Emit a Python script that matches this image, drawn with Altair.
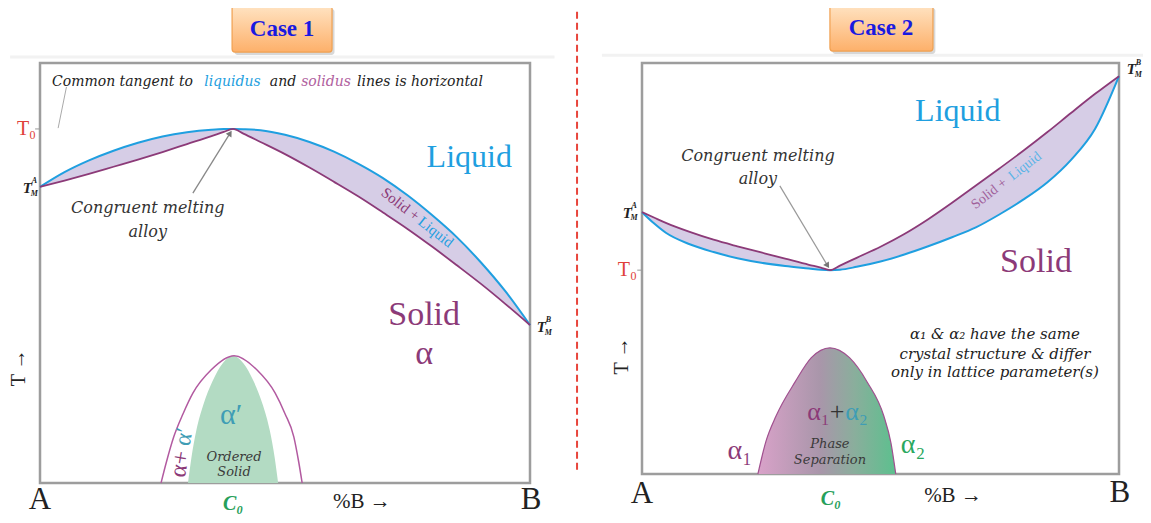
import altair as alt
import pandas as pd

SERIF = "Liberation Serif"
ITAL = "DejaVu Serif"
BLUE = "#1f9fe0"
PURPLE = "#8c3a78"
TEAL = "#3f9db5"
GREEN = "#27a05a"
LAV = "#d6cde6"

# ---------------- Case 1 data (composition %B, temperature in relative units) ----------------
P1_X = [0, 5, 10, 15, 20, 25, 30, 35, 37.5, 39.4, 41.5, 45, 50, 55, 60, 65, 70, 75, 80, 85, 90, 95, 100]
P1_LIQ = [70.5, 74.0, 76.8, 79.1, 81.0, 82.5, 83.5, 84.1, 84.27, 84.3, 84.24, 84.0, 82.9, 81.2, 78.9,
          76.0, 72.6, 68.5, 63.8, 58.6, 52.5, 45.6, 37.6]
P1_SOL = [70.5, 72.0, 73.6, 75.3, 77.0, 78.8, 80.7, 82.6, 83.6, 84.3, 83.2, 81.2, 78.3, 75.1, 71.7,
          68.2, 64.4, 60.5, 56.3, 51.9, 47.4, 42.6, 37.6]
# ordering dome: outer (alpha + alpha') boundary and inner ordered-solid region
P1_DOME_OUT_X = [24.7, 25.8, 27.3, 29.2, 31.2, 34.9, 39.6, 44.3, 48.0, 50.0, 51.8, 52.8, 53.5]
P1_DOME_OUT_T = [0, 5, 11, 16.5, 21.4, 26.9, 30.3, 26.9, 21.4, 16.5, 11, 5, 0]
P1_DOME_IN_X = [30.2, 30.9, 31.9, 33.3, 35.2, 37.3, 39.4, 41.5, 43.6, 45.5, 46.9, 47.9, 48.6]
P1_DOME_IN_T = [0, 6, 12.5, 18.5, 24.2, 28.5, 30.3, 28.5, 24.2, 18.5, 12.5, 6, 0]

# ---------------- Case 2 data ----------------
P2_X = [0, 2.5, 5, 10, 15, 20, 25, 30, 35, 37.5, 39.4, 41.5, 45, 50, 55, 60, 65, 70, 75, 80, 85, 90, 95, 100]
P2_LIQ = [63.7, 61.0, 58.7, 55.9, 54.0, 52.5, 51.4, 50.6, 50.0, 49.7, 49.6, 49.7, 50.4, 51.7, 53.4,
          55.4, 57.6, 60.0, 63.2, 66.8, 71.0, 76.5, 84.0, 96.8]
P2_SOL = [63.7, 62.4, 61.1, 58.9, 57.0, 55.4, 53.9, 52.4, 50.9, 50.2, 49.6, 50.7, 52.6, 55.3, 58.4,
          62.0, 66.0, 70.2, 74.4, 78.7, 83.2, 87.9, 92.5, 96.8]
P2_DOME_X = [24.3, 26, 28.1, 32.1, 35.5, 39.4, 43.5, 47.2, 50.7, 52.2, 53.2]
P2_DOME_T = [0, 8, 14.1, 22.4, 28.3, 30.7, 28.3, 22.4, 14.1, 7.5, 0]


def X(field="x"):
    return alt.X(f"{field}:Q", scale=alt.Scale(domain=[0, 100], nice=False, zero=False), axis=None)


def Y(field="y"):
    return alt.Y(f"{field}:Q", scale=alt.Scale(domain=[0, 100], nice=False, zero=False), axis=None)


def txt(x, y, text, color="#222", size=14, font=SERIF, style="normal", weight="normal",
        angle=0, align="center", baseline="middle"):
    d = pd.DataFrame({"x": [x], "y": [y], "t": [text]})
    return alt.Chart(d).mark_text(color=color, fontSize=size, font=font, fontStyle=style,
                                  fontWeight=weight, angle=angle, align=align,
                                  baseline=baseline).encode(x=X(), y=Y(), text="t:N")


def seg(x, y, x2, y2, color="#888", width=1.2, dash=None):
    d = pd.DataFrame({"x": [x], "y": [y], "x2": [x2], "y2": [y2]})
    kw = dict(color=color, strokeWidth=width)
    if dash:
        kw["strokeDash"] = dash
    return alt.Chart(d).mark_rule(**kw).encode(x=X(), y=Y(), x2="x2:Q", y2="y2:Q")


def head(x, y, angle):
    d = pd.DataFrame({"x": [x], "y": [y]})
    return alt.Chart(d).mark_point(shape="triangle-up", filled=True, size=45, color="#777",
                                   opacity=1, angle=angle).encode(x=X(), y=Y())


def case_box(x, x2, y, y2, label, tx, ty):
    d = pd.DataFrame({"x": [x], "x2": [x2], "y": [y], "y2": [y2]})
    ds = pd.DataFrame({"x": [x + 0.5], "x2": [x2 + 0.5], "y": [y - 0.7], "y2": [y2 - 0.7]})
    shadow = alt.Chart(ds).mark_rect(color="#c8c8c8", opacity=0.7, cornerRadius=3).encode(
        x=X(), x2="x2:Q", y=Y(), y2="y2:Q")
    box = alt.Chart(d).mark_rect(
        fill=alt.LinearGradient(gradient="linear",
                                stops=[alt.GradientStop(color="#ffe3c2", offset=0),
                                       alt.GradientStop(color="#fdb06a", offset=1)],
                                x1=0, x2=0, y1=0, y2=1),
        stroke="#f0a050", strokeWidth=1.2, cornerRadius=3).encode(x=X(), x2="x2:Q", y=Y(), y2="y2:Q")
    t = txt(tx, ty, label, color="#1a1ae0", size=23, font=SERIF, weight="bold")
    return [shadow, box, t]


def T_label(x, y, sup, color="#222"):
    return [txt(x, y, "T", size=15, style="italic", weight="bold", color=color),
            txt(x + 1.45, y + 1.6, sup, size=8, style="italic", weight="bold", color=color),
            txt(x + 1.45, y - 1.3, "M", size=8, style="italic", weight="bold", color=color)]


# ======================= Panel 1 =======================
df1 = pd.DataFrame({"x": P1_X, "liq": P1_LIQ, "sol": P1_SOL})
lens1 = alt.Chart(df1).mark_area(color=LAV, interpolate="monotone").encode(
    x=X(), y=Y("liq"), y2="sol:Q")
liq1 = alt.Chart(df1).mark_line(color=BLUE, strokeWidth=2, interpolate="monotone").encode(x=X(), y=Y("liq"))
sol1 = alt.Chart(df1).mark_line(color=PURPLE, strokeWidth=1.8, interpolate="monotone").encode(x=X(), y=Y("sol"))

dout = pd.DataFrame({"x": P1_DOME_OUT_X, "y": P1_DOME_OUT_T})
din = pd.DataFrame({"x": P1_DOME_IN_X, "y": P1_DOME_IN_T})
dome1_fill = alt.Chart(din).mark_area(color="#b3dbc3", interpolate="monotone").encode(
    x=X(), y=Y(), y2=alt.datum(0))
dome1_out = alt.Chart(dout).mark_line(color="#b25aa0", strokeWidth=1.5, interpolate="monotone").encode(
    x=X(), y=Y())

p1_layers = [
    seg(-8.2, 114.8, 226.7, 114.8, color="#dcf3dc", width=2),
    seg(-6.1, 101.4, 105, 101.4, color="#f2f2f2", width=3),
    *case_box(39.2, 59.6, 102.6, 113.6, "Case 1", 49.4, 108.1),
    seg(109.6, 114.8, 109.6, 3.1, color="#e8453c", width=2, dash=[7, 4]),
    lens1, liq1, sol1, dome1_fill, dome1_out,
    # common tangent note
    txt(2.45, 95.5, "Common tangent to", size=14, font=ITAL, style="italic", align="left", color="#222"),
    txt(33.5, 95.5, "liquidus", size=14, font=ITAL, style="italic", align="left", color=BLUE),
    txt(46.9, 95.5, "and", size=14, font=ITAL, style="italic", align="left", color="#222"),
    txt(53.3, 95.5, "solidus", size=14, font=ITAL, style="italic", align="left", color="#b0609e"),
    txt(64.7, 95.5, "lines is horizontal", size=14, font=ITAL, style="italic", align="left", color="#222"),
    seg(5.4, 94.3, 3.7, 84.5, color="#aaaaaa", width=1),
    seg(-1.0, 84.3, 0, 84.3, color="#999", width=1),
    txt(-0.8, 84.3, "T₀", color="#e0403a", size=20, align="right"),
    *T_label(-2.6, 70.2, "A"),
    *T_label(102.3, 37.1, "B"),
    txt(87.6, 77.6, "Liquid", color=BLUE, size=32),
    txt(78.4, 40.0, "Solid", color=PURPLE, size=34),
    txt(78.4, 30.6, "α", color=PURPLE, size=34),
    txt(73.6, 66.4, "Solid +", color=PURPLE, size=15, angle=38),
    txt(80.8, 59.8, "Liquid", color=BLUE, size=15, angle=38),
    txt(22.0, 65.5, "Congruent melting", size=16, font=ITAL, style="italic", color="#333"),
    txt(22.0, 59.8, "alloy", size=16, font=ITAL, style="italic", color="#333"),
    seg(31.2, 69.0, 38.8, 83.3, color="#888", width=1.3),
    head(38.8, 83.3, 32),
    txt(39.0, 16.2, "α′", color=TEAL, size=30),
    txt(39.6, 6.2, "Ordered", size=13, font=ITAL, style="italic", color="#3a3a3a"),
    txt(39.6, 2.6, "Solid", size=13, font=ITAL, style="italic", color="#3a3a3a"),
    txt(28.6, 4.5, "α+", color=PURPLE, size=24, angle=280),
    txt(29.4, 11.0, "α′", color=TEAL, size=24, angle=280),
    txt(0, -4.0, "A", size=31),
    txt(100.2, -4.0, "B", size=31),
    txt(65.7, -4.6, "%B →", size=21),
    txt(39.4, -4.9, "C₀", color=GREEN, size=20, style="italic", weight="bold"),
    txt(-4.3, 27.4, "T →", size=20, angle=270),
]
panel1 = alt.layer(*p1_layers).properties(width=490, height=420)

# ======================= Panel 2 =======================
df2 = pd.DataFrame({"x": P2_X, "liq": P2_LIQ, "sol": P2_SOL})
lens2 = alt.Chart(df2).mark_area(color=LAV, interpolate="monotone").encode(
    x=X(), y=Y("liq"), y2="sol:Q")
liq2 = alt.Chart(df2).mark_line(color=BLUE, strokeWidth=2, interpolate="monotone").encode(x=X(), y=Y("liq"))
sol2 = alt.Chart(df2).mark_line(color=PURPLE, strokeWidth=1.8, interpolate="monotone").encode(x=X(), y=Y("sol"))

dd2 = pd.DataFrame({"x": P2_DOME_X, "y": P2_DOME_T})
dome2_fill = alt.Chart(dd2).mark_area(
    color=alt.LinearGradient(gradient="linear",
                             stops=[alt.GradientStop(color="#d9a2c9", offset=0),
                                    alt.GradientStop(color="#a996aa", offset=0.45),
                                    alt.GradientStop(color="#8aae9c", offset=0.7),
                                    alt.GradientStop(color="#5cc08e", offset=1)],
                             x1=0, x2=1, y1=0, y2=0),
    interpolate="monotone").encode(x=X(), y=Y(), y2=alt.datum(0))
dome2_line = alt.Chart(dd2).mark_line(color="#a0508f", strokeWidth=1.2, interpolate="monotone").encode(
    x=X(), y=Y())

p2_layers = [
    seg(-8.4, 101.9, 106.7, 101.9, color="#f2f2f2", width=3),
    *case_box(39.4, 61.0, 102.9, 114.1, "Case 2", 50.1, 108.5),
    lens2, liq2, sol2, dome2_fill, dome2_line,
    *T_label(-3.1, 63.5, "A"),
    *T_label(102.6, 98.5, "B"),
    seg(-1.0, 49.6, 0, 49.6, color="#999", width=1),
    txt(-1.05, 49.6, "T₀", color="#e0403a", size=20, align="right"),
    txt(66.2, 88.3, "Liquid", color=BLUE, size=32),
    txt(82.6, 51.6, "Solid", color=PURPLE, size=34),
    txt(72.8, 68.2, "Solid +", color="#a0609a", size=14, angle=322),
    txt(80.3, 74.9, "Liquid", color="#5ab4e6", size=14, angle=322),
    txt(24.3, 77.4, "Congruent melting", size=16, font=ITAL, style="italic", color="#333"),
    txt(24.3, 71.8, "alloy", size=16, font=ITAL, style="italic", color="#333"),
    seg(28.9, 70.1, 38.9, 50.7, color="#999", width=1.2),
    head(38.9, 50.7, 148),
    txt(74.0, 34.1, "α₁ & α₂ have the same", size=15, font=ITAL, style="italic", color="#222"),
    txt(74.0, 29.2, "crystal structure & differ", size=15, font=ITAL, style="italic", color="#222"),
    txt(74.0, 24.8, "only in lattice parameter(s)", size=15, font=ITAL, style="italic", color="#222"),
    txt(39.4, 15.1, "α₁", color=PURPLE, size=26, align="right"),
    txt(40.9, 15.1, "+", color="#333", size=26),
    txt(42.6, 15.1, "α₂", color=TEAL, size=26, align="left"),
    txt(39.4, 7.3, "Phase", size=13, font=ITAL, style="italic", color="#3a3a3a"),
    txt(39.4, 3.4, "Separation", size=13, font=ITAL, style="italic", color="#3a3a3a"),
    txt(20.5, 5.6, "α₁", color=PURPLE, size=28),
    txt(56.8, 7.1, "α₂", color="#2aa860", size=28),
    txt(0, -4.9, "A", size=31),
    txt(100.2, -4.6, "B", size=31),
    txt(65.2, -5.4, "%B →", size=21),
    txt(39.6, -6.0, "C₀", color=GREEN, size=20, style="italic", weight="bold"),
    txt(-4.2, 28.7, "T →", size=20, angle=270),
]
panel2 = alt.layer(*p2_layers).properties(width=477, height=411)

chart = alt.hconcat(
    panel1, panel2, spacing=112, bounds="flush",
    autosize=alt.AutoSizeParams(type="none"),
    padding={"left": 32, "top": 55, "right": 1103, "bottom": 452},
    background="white",
).configure_view(stroke="#9d9d9d", strokeWidth=2.5)

chart.save("out.html", embed_options={"renderer": "svg", "actions": False})
